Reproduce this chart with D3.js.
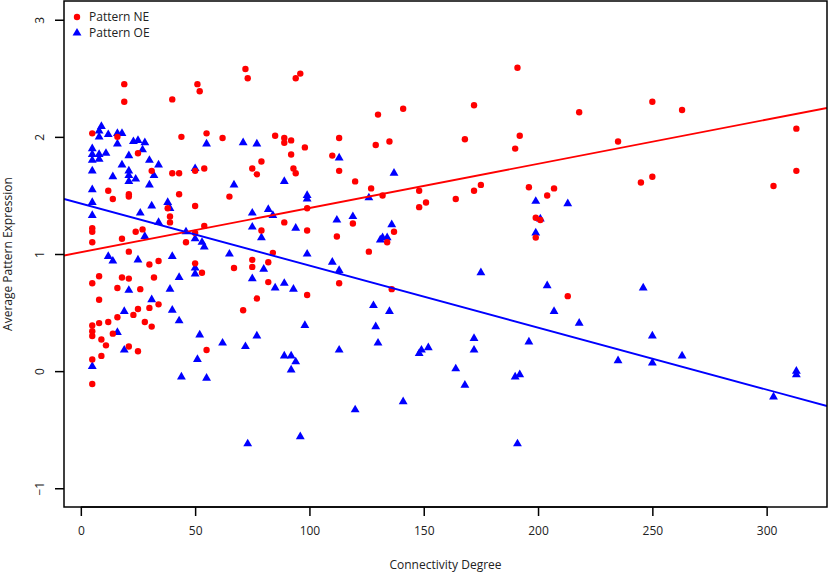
<!DOCTYPE html>
<html>
<head>
<meta charset="utf-8">
<script src="https://cdn.jsdelivr.net/npm/d3@7"></script>
<style>
  body { margin: 0; background: #fff; }
  svg { display: block; font-family: 'Open Sans', 'Noto Sans', sans-serif; }
</style>
</head>
<body>
<div id="chart"></div>
<script>
// Pattern NE (red circles)
const neDegree = [19, 19, 40, 51, 52, 72, 73, 5, 16, 44, 55, 62, 85, 25, 31, 40, 43, 50, 54, 75, 77, 79,
  12, 21, 21, 14, 43, 65, 50, 38, 39, 39, 5, 5, 79, 24, 27, 18, 54, 50, 5, 46, 21, 84, 50, 30, 34, 75,
  75, 82, 67, 53, 8, 5, 18, 21, 32, 16, 26, 82, 8, 77, 34, 30, 25, 71, 23, 16, 12, 8, 5, 28, 31, 5, 5,
  14, 9, 11, 21, 25, 55, 9, 5, 5, 94, 96, 89, 89, 92, 92, 98, 93, 94, 110, 113, 113, 120, 130, 129, 135,
  141, 127, 132, 99, 89, 99, 112, 119, 137, 148, 148, 151, 164, 172, 175, 168, 172, 191, 192, 190, 196,
  204, 199, 201, 199, 134, 126, 113, 99, 136, 218, 250, 263, 235, 313, 245, 250, 303, 313, 207, 213];
const neExpr = [2.45, 2.30, 2.32, 2.45, 2.39, 2.58, 2.50, 2.03, 2.00, 2.00, 2.03, 1.99, 2.01, 1.86, 1.71,
  1.69, 1.69, 1.71, 1.73, 1.73, 1.68, 1.79, 1.54, 1.51, 1.49, 1.47, 1.51, 1.49, 1.41, 1.39, 1.32, 1.27,
  1.22, 1.19, 1.20, 1.19, 1.21, 1.13, 1.24, 1.18, 1.10, 1.10, 1.02, 1.01, 0.92, 0.91, 0.94, 0.95, 0.89,
  0.93, 0.88, 0.84, 0.81, 0.75, 0.80, 0.79, 0.80, 0.71, 0.70, 0.76, 0.61, 0.62, 0.57, 0.54, 0.53, 0.52,
  0.48, 0.46, 0.42, 0.41, 0.39, 0.42, 0.38, 0.34, 0.30, 0.32, 0.27, 0.22, 0.21, 0.17, 0.18, 0.13, 0.10,
  -0.11, 2.50, 2.54, 1.99, 1.95, 1.97, 1.85, 1.91, 1.73, 1.69, 1.84, 1.99, 1.71, 1.62, 2.19, 1.93, 1.96,
  2.24, 1.56, 1.50, 1.39, 1.27, 1.20, 1.15, 1.26, 1.19, 1.54, 1.40, 1.44, 1.47, 1.54, 1.59, 1.98, 2.27,
  2.59, 2.01, 1.90, 1.57, 1.50, 1.31, 1.29, 1.14, 1.10, 1.02, 0.75, 0.65, 0.70, 2.21, 2.30, 2.23, 1.96,
  2.07, 1.61, 1.66, 1.58, 1.71, 1.56, 0.64];

// Pattern OE (blue triangles)
const oeDegree = [9, 8, 8, 12, 16, 18, 16, 5, 23, 25, 28, 27, 21, 8, 11, 5, 5, 8, 30, 34, 18, 5, 21, 14,
  21, 24, 21, 30, 5, 32, 50, 55, 71, 77, 67, 5, 5, 26, 31, 38, 39, 34, 46, 50, 53, 54, 75, 75, 82, 84,
  79, 28, 12, 14, 25, 40, 65, 50, 50, 43, 39, 80, 75, 85, 21, 31, 19, 40, 43, 16, 19, 52, 62, 72, 77,
  51, 5, 44, 55, 73, 96, 120, 141, 113, 137, 89, 99, 99, 126, 94, 112, 119, 136, 132, 134, 199, 201,
  199, 131, 99, 110, 113, 89, 93, 175, 204, 128, 135, 98, 129, 130, 113, 172, 196, 172, 89, 92, 94, 92,
  149, 152, 148, 164, 168, 190, 192, 191, 213, 246, 207, 218, 250, 235, 250, 263, 303, 313, 313];
const oeExpr = [2.09, 2.05, 2.00, 2.02, 2.03, 2.03, 1.94, 1.90, 1.96, 1.97, 1.95, 1.89, 1.84, 1.85, 1.86,
  1.85, 1.80, 1.81, 1.80, 1.76, 1.76, 1.71, 1.71, 1.66, 1.67, 1.64, 1.62, 1.59, 1.55, 1.67, 1.73, 1.94,
  1.95, 1.94, 1.59, 1.44, 1.33, 1.35, 1.41, 1.44, 1.39, 1.27, 1.19, 1.13, 1.10, 1.06, 1.35, 1.23, 1.38,
  1.33, 1.14, 1.15, 0.98, 0.94, 0.95, 0.98, 1.00, 0.88, 0.83, 0.80, 0.70, 0.87, 0.79, 0.71, 0.69, 0.61,
  0.51, 0.52, 0.43, 0.33, 0.18, 0.31, 0.24, 0.21, 0.30, 0.10, 0.04, -0.05, -0.06, -0.62, -0.56, -0.33,
  -0.26, 1.82, 1.69, 1.62, 1.50, 1.47, 1.48, 1.22, 1.29, 1.32, 1.25, 1.14, 1.14, 1.45, 1.30, 1.18, 1.12,
  1.00, 0.93, 0.86, 0.75, 0.70, 0.84, 0.73, 0.56, 0.51, 0.39, 0.38, 0.24, 0.18, 0.28, 0.25, 0.18, 0.13,
  0.13, 0.08, 0.01, 0.18, 0.20, 0.15, 0.02, -0.12, -0.05, -0.03, -0.62, 1.43, 0.71, 0.51, 0.41, 0.30,
  0.09, 0.07, 0.13, -0.22, 0.00, -0.03];

// fitted lines (intercept, slope) for NE and OE
const seriesNames = ['Pattern NE', 'Pattern OE'];
const fitIntercept = [1.015, 1.431];
const fitSlope = [0.003775, -0.005297];

const xTicks = [0, 50, 100, 150, 200, 250, 300];
const yTicks = [-1, 0, 1, 2, 3];

const width = 828;
const height = 574;
const plot = { left: 64, right: 827, top: 1, bottom: 507 };
const red = '#ff0000';
const blue = '#0000ff';

const svg = d3.select('#chart').append('svg').attr('width', width).attr('height', height);

const x = d3.scaleLinear().domain([-7.36, 326.4]).range([plot.left, plot.right]);
const y = d3.scaleLinear().domain([-1.16, 3.16]).range([plot.bottom, plot.top]);

svg.append('clipPath').attr('id', 'clip')
  .append('rect')
  .attr('x', plot.left).attr('y', plot.top)
  .attr('width', plot.right - plot.left).attr('height', plot.bottom - plot.top);

// axes
const xAxis = svg.append('g')
  .attr('transform', `translate(0,${plot.bottom})`)
  .call(d3.axisBottom(x).tickValues(xTicks).tickSize(9).tickPadding(8).tickFormat(d3.format('d')));
const yAxis = svg.append('g')
  .attr('transform', `translate(${plot.left},0)`)
  .call(d3.axisLeft(y).tickValues(yTicks).tickSize(9).tickPadding(8).tickFormat(d3.format('d')));

[xAxis, yAxis].forEach((g) => {
  g.select('.domain').remove();
  g.selectAll('line').attr('stroke', '#000').attr('stroke-width', 1.5);
  g.selectAll('text').attr('fill', '#222').attr('font-size', 12).attr('font-family', "'Open Sans', sans-serif");
});
yAxis.selectAll('.tick text')
  .attr('transform', 'rotate(-90)')
  .attr('x', 0).attr('y', -24)
  .attr('dy', '0.35em')
  .attr('text-anchor', 'middle');
xAxis.selectAll('.tick text').attr('dy', '0.9em');

// axis line between first and last ticks
svg.append('line')
  .attr('x1', x(xTicks[0])).attr('x2', x(xTicks[xTicks.length - 1]))
  .attr('y1', plot.bottom).attr('y2', plot.bottom)
  .attr('stroke', '#000').attr('stroke-width', 1.5);

// titles
svg.append('text')
  .attr('x', (plot.left + plot.right) / 2).attr('y', 569)
  .attr('text-anchor', 'middle').attr('font-size', 12).attr('fill', '#222')
  .text('Connectivity Degree');
svg.append('text')
  .attr('transform', `translate(12,${(plot.top + plot.bottom) / 2}) rotate(-90)`)
  .attr('text-anchor', 'middle').attr('font-size', 12).attr('fill', '#222')
  .text('Average Pattern Expression');

const points = svg.append('g').attr('clip-path', 'url(#clip)');
const triangle = d3.symbol().type(d3.symbolTriangle).size(34);

points.append('g')
  .selectAll('path')
  .data(d3.range(oeDegree.length))
  .join('path')
  .attr('transform', (i) => `translate(${x(oeDegree[i])},${y(oeExpr[i])})`)
  .attr('d', triangle)
  .attr('fill', blue);

points.append('g')
  .selectAll('circle')
  .data(d3.range(neDegree.length))
  .join('circle')
  .attr('cx', (i) => x(neDegree[i]))
  .attr('cy', (i) => y(neExpr[i]))
  .attr('r', 3.2)
  .attr('fill', red);

// regression lines
const [x0, x1] = x.domain();
points.selectAll('line.fit')
  .data([0, 1])
  .join('line')
  .attr('class', 'fit')
  .attr('x1', x(x0)).attr('x2', x(x1))
  .attr('y1', (i) => y(fitIntercept[i] + fitSlope[i] * x0))
  .attr('y2', (i) => y(fitIntercept[i] + fitSlope[i] * x1))
  .attr('stroke', (i) => (i === 0 ? red : blue))
  .attr('stroke-width', 1.9);

// box
svg.append('rect')
  .attr('x', plot.left).attr('y', plot.top)
  .attr('width', plot.right - plot.left).attr('height', plot.bottom - plot.top)
  .attr('fill', 'none').attr('stroke', '#000').attr('stroke-width', 1.5);

// legend
const legend = svg.append('g').attr('transform', 'translate(77,17)');
legend.append('circle').attr('cx', 0).attr('cy', 0).attr('r', 3.2).attr('fill', red);
legend.append('path').attr('transform', 'translate(0,16)').attr('d', triangle).attr('fill', blue);
legend.selectAll('text')
  .data(seriesNames)
  .join('text')
  .attr('x', 12)
  .attr('y', (d, i) => i * 16)
  .attr('dy', '0.35em')
  .attr('font-size', 12)
  .attr('fill', '#222')
  .text((d) => d);
</script>
</body>
</html>
